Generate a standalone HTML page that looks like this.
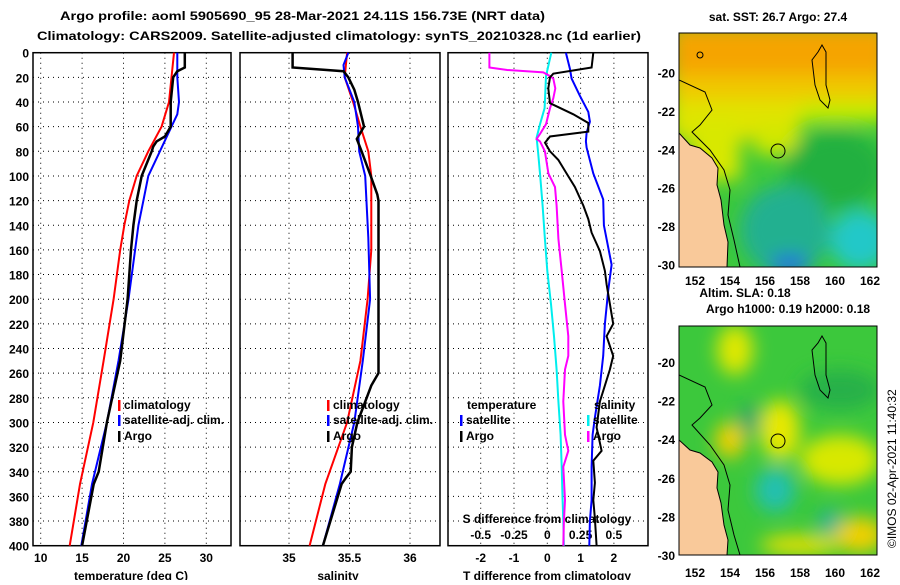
<!DOCTYPE html>
<html><head><meta charset="utf-8"><style>
body{margin:0;background:#fff}
svg text{font-family:"Liberation Sans",sans-serif;font-weight:bold;font-size:12px;fill:#000}
</style></head><body>
<svg id="c" width="900" height="580" xmlns="http://www.w3.org/2000/svg">
<defs><filter id="bl" x="-20%" y="-20%" width="140%" height="140%"><feGaussianBlur stdDeviation="9"/></filter>
<clipPath id="m1"><rect x="679" y="33" width="198" height="234"/></clipPath>
<clipPath id="m2"><rect x="679" y="326" width="198" height="229"/></clipPath></defs>
<text x="60" y="20" font-size="14" textLength="485" lengthAdjust="spacingAndGlyphs">Argo profile: aoml 5905690_95 28-Mar-2021 24.11S 156.73E (NRT data)</text>
<text x="37" y="40" font-size="14" textLength="604" lengthAdjust="spacingAndGlyphs">Climatology: CARS2009. Satellite-adjusted climatology: synTS_20210328.nc (1d earlier)</text>

<g clip-path="url(#m1)">
<rect x="679" y="33" width="198" height="234" fill="#3cc83c"/>
<g filter="url(#bl)">
<rect x="670" y="25" width="220" height="55" fill="#f5a400"/>
<rect x="670" y="75" width="220" height="35" fill="#f0c800"/>
<rect x="670" y="100" width="130" height="40" fill="#e0e400"/>
<rect x="800" y="100" width="90" height="22" fill="#c8ec00"/>
<rect x="690" y="120" width="50" height="60" fill="#d8e800"/>
<rect x="755" y="125" width="45" height="30" fill="#d0e800"/>
<ellipse cx="835" cy="170" rx="50" ry="40" fill="#22b040"/>
<ellipse cx="785" cy="230" rx="45" ry="45" fill="#20b090"/>
<ellipse cx="860" cy="240" rx="30" ry="30" fill="#20c8c8"/>
<ellipse cx="790" cy="265" rx="20" ry="10" fill="#2070e0"/>
</g>
<polygon points="679,133 690,145 700,148 712,158 718,168 717,185 721,200 724,225 728,242 727,267 679,267" fill="#f9c99a" stroke="#000"/>
<polyline points="679,80 705,92 712,110 700,125 692,132 710,150 724,170 730,190 728,215 734,240 740,267" fill="none" stroke="#000"/>
<polygon points="818,52 822,45 826,52 826,85 830,100 828,108 820,100 815,85 812,60" fill="none" stroke="#000"/>
<circle cx="778" cy="151" r="7" fill="none" stroke="#000"/>
<circle cx="700" cy="55" r="3" fill="none" stroke="#000"/>
</g>
<rect x="679" y="33" width="198" height="234" fill="none" stroke="#000"/>

<g clip-path="url(#m2)">
<rect x="679" y="326" width="198" height="229" fill="#3cc83c"/>
<g filter="url(#bl)">
<ellipse cx="735" cy="350" rx="18" ry="25" fill="#e0e800"/>
<ellipse cx="780" cy="430" rx="20" ry="30" fill="#e8e800"/>
<ellipse cx="730" cy="440" rx="15" ry="18" fill="#f0d000"/>
<ellipse cx="840" cy="460" rx="40" ry="25" fill="#d8e800"/>
<ellipse cx="775" cy="490" rx="20" ry="22" fill="#20c0b0"/>
<ellipse cx="830" cy="522" rx="12" ry="12" fill="#20b0a0"/>
<ellipse cx="860" cy="535" rx="25" ry="18" fill="#f0d000"/>
<ellipse cx="800" cy="545" rx="40" ry="10" fill="#e8e000"/>
<ellipse cx="750" cy="420" rx="10" ry="15" fill="#20a070"/>
<ellipse cx="840" cy="390" rx="40" ry="20" fill="#28b048"/>
</g>
<polygon points="679,440 690,450 700,453 712,462 718,472 717,488 721,503 724,525 728,540 727,555 679,555" fill="#f9c99a" stroke="#000"/>
<polyline points="679,375 705,387 712,405 700,418 692,425 710,445 724,465 730,485 728,510 734,535 740,555" fill="none" stroke="#000"/>
<polygon points="818,343 822,336 826,343 826,375 830,390 828,398 820,390 815,375 812,350" fill="none" stroke="#000"/>
<circle cx="778" cy="441" r="7" fill="none" stroke="#000"/>
</g>
<rect x="679" y="326" width="198" height="229" fill="none" stroke="#000"/>
<text x="778" y="21" text-anchor="middle">sat. SST: 26.7 Argo: 27.4</text>
<text x="745" y="297" text-anchor="middle">Altim. SLA: 0.18</text>
<text x="788" y="313" text-anchor="middle">Argo h1000: 0.19 h2000: 0.18</text>
<text transform="translate(896,548) rotate(-90)" style="font-weight:normal" font-size="12">©IMOS 02-Apr-2021 11:40:32</text>
<g id="g"></g>
</svg>
<script>
// ---- data ----
const depthTicks=[0,20,40,60,80,100,120,140,160,180,200,220,240,260,280,300,320,340,360,380,400];
const tempTicks=[10,15,20,25,30];
const salTicks=[35,35.5,36];
const tdiffTicks=[-2,-1,0,1,2];
const sdiffTicks=[-0.5,-0.25,0,0.25,0.5];
const lonTicks=[152,154,156,158,160,162];
const latTicks=[-20,-22,-24,-26,-28,-30];

const argoTDepth=[0,12,15,20,40,60,68,72,76,80,100,120,140,160,180,200,250,300,340,350,400];
const argoT=[27.4,27.4,26.5,26.0,25.7,25.7,25.0,24.0,23.6,23.4,22.2,21.6,21.2,20.9,20.7,20.5,19.6,18.0,17.0,16.4,15.0];
const climTDepth=[0,20,40,60,80,100,120,140,160,180,200,250,300,350,400];
const climT=[26.1,25.8,25.5,24.6,23.0,21.6,20.7,20.1,19.6,19.2,18.8,17.6,16.35,14.75,13.5];
const satTDepth=[0,20,40,50,60,80,100,120,140,160,180,200,250,300,350,400];
const satT=[26.5,26.5,26.7,26.5,25.8,24.4,23.0,22.4,21.8,21.4,21.0,20.6,19.4,18.0,16.2,14.9];

const argoSDepth=[0,12,15,20,30,40,60,70,80,100,115,120,260,270,300,320,340,345,350,400];
const argoS=[35.03,35.03,35.45,35.49,35.54,35.57,35.62,35.56,35.60,35.675,35.73,35.74,35.74,35.68,35.565,35.52,35.51,35.47,35.435,35.28];
const climSDepth=[0,20,40,60,80,100,160,200,250,300,350,400];
const climS=[35.48,35.46,35.53,35.59,35.655,35.68,35.68,35.65,35.59,35.48,35.30,35.17];
const satSDepth=[0,10,20,40,60,80,100,150,200,250,300,350,400];
const satS=[35.49,35.45,35.46,35.54,35.57,35.58,35.63,35.655,35.67,35.61,35.54,35.42,35.28];

const argoTdDepth=[0,12,17,20,29,41,50,57,64,68,73,80,87,98,109,124,135,146,161,177,188,204,220,230,246,257,283,304,323,331,349,363,378,400];
const argoTd=[1.38,1.33,0.18,0.08,0.03,0.08,0.78,1.23,1.23,0.08,-0.07,0.08,0.33,0.58,0.83,1.08,1.23,1.33,1.58,1.73,1.78,1.88,1.98,1.78,1.98,1.88,1.58,1.48,1.63,1.38,1.43,1.38,1.43,1.48];
const satTdDepth=[0,13,21,35,48,56,65,72,77,98,119,140,172,193,220,246,270,296,310,336,363,380,400];
const satTd=[0.56,0.68,0.73,0.98,1.23,1.28,1.18,1.16,1.18,1.38,1.68,1.70,1.93,1.83,1.73,1.68,1.58,1.43,1.36,1.33,1.33,1.28,1.26];
const satSdDepth=[0,19,45,58,69,80,98,124,151,177,204,230,257,283,310,336,363,380,400];
const satSd=[0.03,-0.01,-0.02,-0.055,-0.08,-0.07,-0.055,-0.035,-0.018,0,0.028,0.05,0.07,0.083,0.1,0.108,0.115,0.12,0.125];
const argoSdDepth=[0,12,14,16,19,21,29,37,45,58,66,70,72,80,98,109,124,151,177,204,230,246,257,283,310,323,336,363,380,400];
const argoSd=[-0.435,-0.435,-0.3,-0.03,0.02,0.045,0.06,0.045,0.02,-0.01,-0.055,-0.08,-0.055,-0.018,0.008,0.058,0.07,0.083,0.108,0.133,0.158,0.158,0.133,0.12,0.133,0.158,0.12,0.133,0.125,0.12];

// ---- axes ----
const NS='http://www.w3.org/2000/svg', G=document.getElementById('g');
const yD=d=>52.7+d*1.2325;
const xT=t=>40.7+(t-10)*8.28;
const xS=s=>289+(s-35)*121;
const xTd=t=>547.3+t*33.3;
const xSd=s=>547.3+s*133.2;
const xLon=l=>695+(l-152)*17.5;
const yLat1=l=>72.5+(-l-20)*19.2;
const yLat2=l=>362+(-l-20)*19.3;
function el(tag,a,parent){const e=document.createElementNS(NS,tag);for(const k in a)e.setAttribute(k,a[k]);(parent||G).appendChild(e);return e;}
function txt(x,y,s,anchor,name){const t=el('text',{x:x,y:y,'text-anchor':anchor||'middle'});t.textContent=s;

return t;}
const panels=[{x0:33,x1:231,name:'temperature-panel'},{x0:240,x1:440,name:'salinity-panel'},{x0:448,x1:648,name:'difference-panel'}];
const y0=52.7,y1=yD(400);
panels.forEach((p,i)=>{
  const r=el('rect',{x:p.x0,y:y0,width:p.x1-p.x0,height:y1-y0,fill:'none',stroke:'#000','stroke-width':1.5});
  
  
  depthTicks.forEach(d=>{if(d>0&&d<400){const l=el('line',{x1:p.x0,x2:p.x1,y1:yD(d),y2:yD(d),stroke:'#000','stroke-dasharray':'1 4'});
    
    }});
});
depthTicks.forEach(d=>txt(29,yD(d)+5,String(d),'end','depth-tick-label'));
function vgrid(ticks,f,fmt,ly,name){ticks.forEach(t=>{const l=el('line',{x1:f(t),x2:f(t),y1:y0,y2:y1,stroke:'#000','stroke-dasharray':'1 4'});
  
  
  txt(f(t),ly,fmt(t),'middle',name+'-tick-label');});}
vgrid(tempTicks,xT,String,562,'temperature');
vgrid(salTicks,xS,String,562,'salinity');
vgrid(tdiffTicks,xTd,String,562,'tdiff');
sdiffTicks.forEach(s=>txt(xSd(s),539,String(s),'middle','sdiff-tick-label'));
txt(131,580,'temperature (deg C)','middle','x-axis-title-temperature');
txt(338,580,'salinity','middle','x-axis-title-salinity');
txt(547,580,'T difference from climatology','middle','x-axis-title-tdiff');
txt(547,523,'S difference from climatology','middle','x-axis-title-sdiff');
lonTicks.forEach(l=>{txt(xLon(l),285,String(l),'middle','sst-lon-label');txt(xLon(l),577,String(l),'middle','sla-lon-label');});
latTicks.forEach(l=>{txt(675,yLat1(l)+5,String(l),'end','sst-lat-label');txt(675,yLat2(l)+5,String(l),'end','sla-lat-label');});

// ---- series ----
function series(ds,vs,f,color,name,w){const pts=ds.map((d,i)=>f(vs[i]).toFixed(1)+','+yD(d).toFixed(1)).join(' ');
  const p=el('polyline',{points:pts,fill:'none',stroke:color,'stroke-width':w||2,'stroke-linejoin':'miter'});
  
  }
series(climTDepth,climT,xT,'#f00','temperature-climatology-line');
series(satTDepth,satT,xT,'#00f','temperature-satellite-line');
series(argoTDepth,argoT,xT,'#000','temperature-argo-line',2.5);
series(climSDepth,climS,xS,'#f00','salinity-climatology-line');
series(satSDepth,satS,xS,'#00f','salinity-satellite-line');
series(argoSDepth,argoS,xS,'#000','salinity-argo-line',2.5);
series(satSdDepth,satSd,xSd,'#0ee','sdiff-satellite-line');
series(argoSdDepth,argoSd,xSd,'#f0f','sdiff-argo-line');
series(satTdDepth,satTd,xTd,'#00f','tdiff-satellite-line');
series(argoTdDepth,argoTd,xTd,'#000','tdiff-argo-line');

// ---- legends ----
function leg(x,y,color,label,name){const m=el('rect',{x:x,y:y-9,width:2.5,height:11,fill:color});
  
  
  txt(x+6,y,label,'start',name);}
[[118,'temperature'],[327,'salinity']].forEach(([x,n])=>{
  leg(x,409,'#f00','climatology',n+'-legend-climatology');
  leg(x,424,'#00f','satellite-adj. clim.',n+'-legend-satellite');
  leg(x,440,'#000','Argo',n+'-legend-argo');});
txt(467,409,'temperature','start','legend-temperature-header');
leg(460,424,'#00f','satellite','tdiff-legend-satellite');
leg(460,440,'#000','Argo','tdiff-legend-argo');
txt(594,409,'salinity','start','legend-salinity-header');
leg(587,424,'#0ee','satellite','sdiff-legend-satellite');
leg(587,440,'#f0f','Argo','sdiff-legend-argo');
</script>
</body></html>
